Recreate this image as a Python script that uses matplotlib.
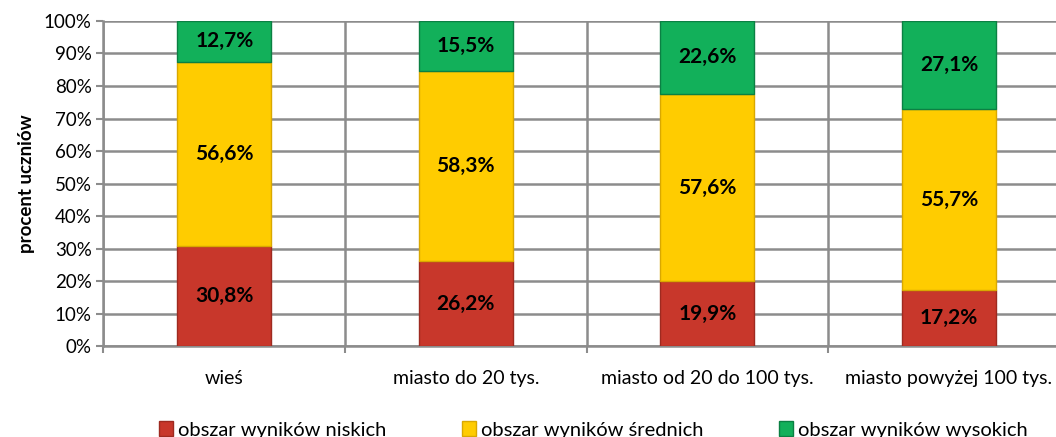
import numpy as np
import matplotlib.pyplot as plt
from matplotlib.ticker import FixedLocator, PercentFormatter

plt.rcParams['font.family'] = ['Lato', 'DejaVu Sans']

kategorie = ["wieś", "miasto do 20 tys.", "miasto od 20 do 100 tys.", "miasto powyżej 100 tys."]
niskie = [30.8, 26.2, 19.9, 17.2]
srednie = [56.6, 58.3, 57.6, 55.7]
wysokie = [12.7, 15.5, 22.6, 27.1]

serie = [
    ("obszar wyników niskich", niskie, "#C8372B", "#9E2A20"),
    ("obszar wyników średnich", srednie, "#FFCC00", "#D9A800"),
    ("obszar wyników wysokich", wysokie, "#12B05A", "#0B8043"),
]

fig = plt.figure(figsize=(10.56, 4.37), dpi=100)
# obszar wykresu wychodzi poza prawą krawędź obrazka (jak w oryginale)
ax = fig.add_axes([0.098, 0.208, 0.915, 0.744])

x = np.arange(len(kategorie))
dol = np.zeros(len(kategorie))
uchwyty = []
for nazwa, wart, kolor, ramka in serie:
    wart = np.array(wart)
    b = ax.bar(x, wart, 0.39, bottom=dol, color=kolor, edgecolor=ramka,
               linewidth=1.0, label=nazwa, zorder=3)
    uchwyty.append(b)
    for xi, d, v in zip(x, dol, wart):
        ax.text(xi, d + v / 2, f"{v:.1f}%".replace(".", ","), ha="center",
                va="center", fontsize=15, fontweight="bold", zorder=4)
    dol += wart

ax.set_xlim(-0.5, 3.5)
ax.set_ylim(0, 100)
ax.set_yticks(np.arange(0, 101, 10))
ax.yaxis.set_major_formatter(PercentFormatter(decimals=0))
ax.set_xticks(x)
ax.set_xticklabels(kategorie)
ax.xaxis.set_minor_locator(FixedLocator([-0.5, 0.5, 1.5, 2.5, 3.5]))
ax.tick_params(axis="x", which="major", length=0, pad=17, labelsize=14)
ax.tick_params(axis="x", which="minor", length=5, width=1.5, color="#8c8c8c")
ax.tick_params(axis="y", length=5, width=1.5, color="#8c8c8c", labelsize=13.5)

ax.grid(axis="y", color="#8c8c8c", linewidth=1.8, zorder=0)
ax.grid(axis="x", which="minor", color="#8c8c8c", linewidth=1.8, zorder=0)
for s in ["top", "right"]:
    ax.spines[s].set_visible(False)
for s in ["left", "bottom"]:
    ax.spines[s].set_color("#8c8c8c")
    ax.spines[s].set_linewidth(1.8)

ax.set_ylabel("procent uczniów", fontsize=13.5, fontweight="bold", labelpad=6)

fig.legend(handles=uchwyty, loc="lower center", ncol=3, frameon=False,
           bbox_to_anchor=(0.562, -0.045), fontsize=14.5, handlelength=0.7,
           handleheight=0.7, handletextpad=0.25, columnspacing=3.75)

fig.savefig("out.png", dpi=100)
